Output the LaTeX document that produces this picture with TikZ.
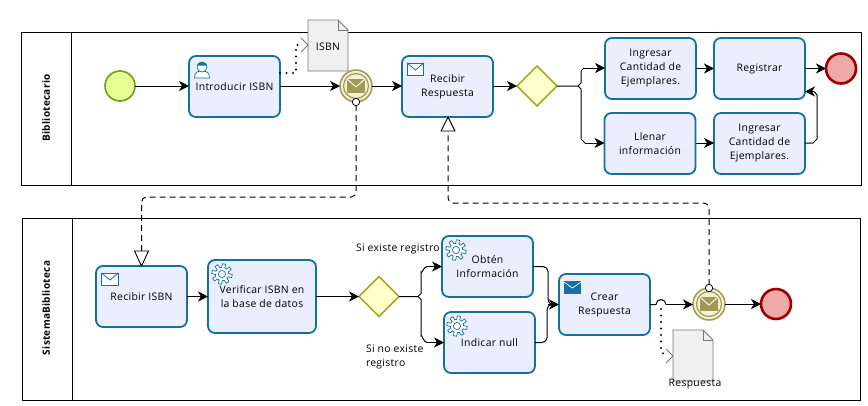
\documentclass[tikz,border=0pt]{standalone}
\usepackage{fontspec}
\setmainfont[LetterSpace=3.0]{Open Sans}
\usetikzlibrary{arrows.meta,shapes.geometric}
\definecolor{taskline}{HTML}{14719F}
\definecolor{taskfill}{HTML}{EAEEFE}
\definecolor{olivec}{HTML}{A09A55}
\definecolor{olivef}{HTML}{F3F1D5}
\definecolor{gatel}{HTML}{A9A824}
\definecolor{gatef}{HTML}{FFFFCC}
\definecolor{endl}{HTML}{9C0000}
\definecolor{endf}{HTML}{EEA8A8}
\definecolor{startl}{HTML}{62A716}
\definecolor{startf}{HTML}{E6FF97}
\definecolor{docf}{HTML}{F0F0F0}
\definecolor{docl}{HTML}{777777}
\tikzset{
  every node/.style={font=\fontsize{10.4}{14}\selectfont,align=center,inner sep=0pt,outer sep=0pt},
  pool/.style={draw=black,line width=1pt,fill=white,minimum height=153pt,minimum width=840pt},
  poolname/.style={rotate=90,font=\fontsize{10}{12}\selectfont\bfseries},
  taskbox/.style={draw=taskline,fill=taskfill,line width=1.8pt,rounded corners=7pt,minimum width=91pt,minimum height=61pt},
  gatebox/.style={diamond,aspect=1,draw=gatel,fill=gatef,line width=1.7pt,minimum size=40pt},
  endev/.style={circle,draw=endl,fill=endf,line width=2.6pt,minimum size=30pt},
  startev/.style={circle,draw=startl,fill=startf,line width=1.6pt,minimum size=30pt},
  midev/.style={circle,draw=olivec,fill=olivef,line width=1.5pt,minimum size=32pt},
  flow/.style={draw=black,line width=1pt,-{Stealth[length=10pt,width=10pt,inset=3pt]}},
  plainflow/.style={draw=black,line width=1pt},
  msg/.style={draw=black,line width=1pt,dash pattern=on 6pt off 4pt,rounded corners=5pt},
  openhead/.style={draw=black,line width=0.9pt,fill=white},
  dots/.style={draw=black,line width=2.2pt,line cap=round,dash pattern=on 0pt off 6.5pt},
  chevron/.style={draw=docl,line width=0.8pt},
  doc/.style={draw=docl,fill=docf,line width=0.9pt,line join=miter},
  txt/.style={anchor=west,align=left},
  gearicon/.pic={
    \draw[taskline,line width=0.7pt,fill=white] plot[samples=145,domain=0:360] (\x:{8.4+1.8*max(min(3*sin(8*\x),1),-1)}) -- cycle;
    \draw[taskline,line width=0.7pt,fill=white] (0,0) circle[radius=3.6pt];
  },
  mailopen/.pic={
    \draw[taskline,line width=0.8pt,fill=white] (-8.3,-6) rectangle (8.3,6);
    \draw[taskline,line width=0.8pt] (-8.3,-6) -- (0,1) -- (8.3,-6);
  },
  mailfull/.pic={
    \fill[taskline] (-8.5,-6.5) rectangle (8.5,6.5);
    \draw[white,line width=0.7pt] (-8.5,-5.5) -- (0,0.5) -- (8.5,-5.5);
  },
  mailolive/.pic={
    \fill[olivec] (-9,-7) rectangle (9,7);
    \draw[white,line width=0.9pt] (-9,-7) -- (0,1) -- (9,-7);
  },
  usericon/.pic={
    \draw[taskline,line width=0.7pt,fill=white] (-7.5,9) .. controls (-7.5,3) and (-4,2) .. (0,2) .. controls (4,2) and (7.5,3) .. (7.5,9) -- cycle;
    \draw[taskline,line width=0.7pt,fill=white] (0,-2) circle[radius=5pt];
    \fill[taskline] (-5,-3.5) arc[start angle=180,end angle=360,radius=5pt,y radius=-3.5pt] -- cycle;
  },
}
\newcommand{\docpath}[1]{%
  \path[doc] (#1.north west) -- ([xshift=-10pt]#1.north east) -- ([yshift=-10pt]#1.north east) -- (#1.south east) -- (#1.south west) -- cycle;
  \draw[docl,line width=0.6pt] ([xshift=-10pt]#1.north east) -- ([xshift=-10pt,yshift=-10pt]#1.north east) -- ([yshift=-10pt]#1.north east);}
\begin{document}
\begin{tikzpicture}[x=1pt,y=-1pt]
\useasboundingbox (0,0) rectangle (868,405);
% pools
\node[pool] (pa) at (441,108.5) {};
\node[pool,minimum height=182pt,minimum width=838pt] (pb) at (441,309) {};
\draw[line width=1pt] ([xshift=50pt]pa.north west) -- ([xshift=50pt]pa.south west);
\draw[line width=1pt] ([xshift=50pt]pb.north west) -- ([xshift=50pt]pb.south west);
\node[poolname] (pan) at (46,108) {Bibliotecario};
\node[poolname] (pbn) at (46,308) {SistemaBiblioteca};
% documents
\node[minimum width=40pt,minimum height=51pt] (isbn) at (328,45.5) {};
\docpath{isbn}
\node (isbnt) at (328,47) {ISBN};
\node[minimum width=40pt,minimum height=51pt] (resp) at (693,355.5) {};
\docpath{resp}
\node (respt) at (695,384) {Respuesta};
% pool 1
\node[startev] (s1) at (120,86) {};
\node[taskbox] (intro) at (234.5,86.5) {Introducir ISBN};
\node[midev] (ev1) at (356,86) {};
\node[taskbox] (rr) at (447.5,86.5) {Recibir\\Respuesta};
\node[gatebox] (g1) at (537,86) {};
\node[taskbox] (ing1) at (650.5,68.5) {Ingresar\\Cantidad de\\Ejemplares.};
\node[taskbox] (reg) at (759.5,68.5) {Registrar};
\node[endev] (e1) at (841,68.5) {};
\node[taskbox] (llen) at (650,143.5) {Llenar\\información};
\node[taskbox] (ing2) at (759.5,143.5) {Ingresar\\Cantidad de\\Ejemplares.};
% pool 2
\node[taskbox] (ri) at (141.5,296.5) {Recibir ISBN};
\node[taskbox,minimum width=108pt,minimum height=73pt] (ver) at (262,296.5) {Verificar ISBN en\\la base de datos};
\node[gatebox] (g2) at (379,296.5) {};
\node[taskbox] (obt) at (487.5,266.5) {Obtén\\Información};
\node[taskbox] (ind) at (489.5,342.5) {Indicar null};
\node[taskbox] (cr) at (604.5,304.5) {Crear\\Respuesta};
\node[midev] (ev2) at (709,304) {};
\node[endev] (e2) at (776,304) {};
% event rings and icons
\draw[olivec,line width=1.2pt] (ev1) circle[radius=12.5pt];
\draw[olivec,line width=1.2pt] (ev2) circle[radius=12.5pt];
\pic at (ev1) {mailolive};
\pic at (ev2) {mailolive};
\pic at (415.5,69) {mailopen};
\pic at (110,279) {mailopen};
\pic at (572.5,287.5) {mailfull};
\pic at (202,69) {usericon};
\pic at (222,274) {gearicon};
\pic at (456,250) {gearicon};
\pic at (457,326) {gearicon};
% labels
\node[txt] (l1) at (356,249) {Si existe registro};
\node[txt] (l2) at (366,356.5) {Si no existe\\registro};
% sequence flows
\draw[flow] (s1) -- (intro.west |- s1);
\draw[flow] (intro.east |- ev1) -- (ev1);
\draw[flow] (ev1) -- (rr.west |- ev1);
\draw[flow] (rr.east |- g1) -- (g1);
\draw[plainflow] (g1) -- (578,86) -- (581,83) -- (581,71) -- (584,68);
\draw[flow] (584,68) -- (ing1.west |- 0,68);
\draw[plainflow] (578,86) -- (581,89) -- (581,139) -- (585,143);
\draw[flow] (585,143) -- (llen.west |- 0,143);
\draw[flow] (ing1) -- (reg);
\draw[flow] (reg) -- (e1);
\draw[flow] (llen.east |- 0,143) -- (ing2.west |- 0,143);
\draw[plainflow] (ing2.east |- 0,143) -- (813,143) -- (817,139) -- (817,95) -- (814,91.5);
\draw[flow] (814,91.5) -- ([yshift=7.5pt]reg.south east);
\draw[flow] (ri) -- (ver);
\draw[flow] (ver) -- (g2);
\draw[plainflow] (g2) -- (418,296.5) -- (421,293.5) -- (421,272) to[out=-90,in=180] (427,266.5);
\draw[flow] (427,266.5) -- (obt.west);
\draw[plainflow] (418,296.5) -- (421,299.5) -- (421,336) to[out=90,in=180] (427,342.5);
\draw[flow] (427,342.5) -- (ind.west);
\draw[plainflow,rounded corners=5pt] (obt.east) -- (548,266.5) -- (548,304.5) -- (552,304.5);
\draw[flow] (548,304.5) -- (cr.west);
\draw[plainflow,rounded corners=5pt] (ind.east) -- (547,342.5) -- (547,304.5) -- (552,304.5);
\draw[plainflow] (cr.east) -- (656,304.5) arc[start angle=180,end angle=360,radius=5pt,y radius=-5pt];
\draw[flow] (666,304.5) -- (ev2.west |- 0,304.5);
\draw[flow] (ev2) -- (e2);
% message flows
\draw[msg] (356,105) -- (356,197) -- (141.5,197) -- (141.5,252);
\draw[openhead] (134.5,251) -- (148.5,251) -- (141.5,266) -- cycle;
\draw[msg] (709,285) -- (709,203) -- (448,203) -- (448,131);
\draw[openhead] (441,131) -- (455,131) -- (448,117) -- cycle;
\draw[draw=black,line width=0.8pt,fill=white] (ev1.south) circle[radius=3.7pt];
\draw[draw=black,line width=0.8pt,fill=white] (ev2.north) circle[radius=3.7pt];
% associations
\draw[dots] ([yshift=13.5pt]intro.east) -- (296,73) -- (296,45) -- (303,45);
\draw[chevron] (301,38) -- (308,45) -- (301,52);
\draw[dots] (661,309) -- (661,352) -- (667,356);
\draw[chevron] (666,349) -- (673,356) -- (666,363);
\end{tikzpicture}
\end{document}
